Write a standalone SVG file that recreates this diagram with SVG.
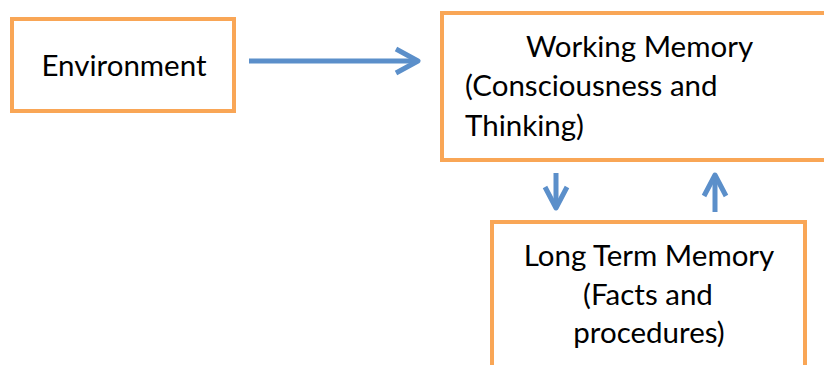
<svg xmlns="http://www.w3.org/2000/svg" width="824" height="365" viewBox="0 0 824 365">
<style>
.box{fill:#fff;stroke:#F9A656;stroke-width:4}
.t{font-family:Lato,"Open Sans","Liberation Sans",sans-serif;font-size:29.5px;fill:#000}
.c{stroke:#5B8FCA;stroke-width:5;fill:none;stroke-linecap:butt}
</style>
<rect width="824" height="365" fill="#fff"/>
<g id="environment">
<rect class="box" x="12" y="19" width="222" height="92"/>
<text class="t" x="124" y="76" text-anchor="middle">Environment</text>
</g>
<g id="working-memory">
<rect class="box" x="442" y="13" width="400" height="147"/>
<text class="t" x="639.5" y="57" text-anchor="middle">Working Memory</text>
<text class="t" x="465" y="96">(Consciousness and</text>
<text class="t" x="465" y="136">Thinking)</text>
</g>
<g id="long-term-memory">
<rect class="box" x="492" y="222" width="313" height="200"/>
<text class="t" x="649" y="266" text-anchor="middle">Long Term Memory</text>
<text class="t" x="648" y="305" text-anchor="middle">(Facts and</text>
<text class="t" x="649" y="343" text-anchor="middle">procedures)</text>
</g>
<g id="connectors">
<path class="c" d="M249 61H418"/>
<path class="c" d="M396 49L418 61L396 73" stroke-linejoin="round" stroke-linecap="round"/>
<path class="c" d="M556 173V208"/>
<path class="c" d="M545 187L556 208L567 187" stroke-linejoin="round" stroke-linecap="round"/>
<path class="c" d="M715 212V176"/>
<path class="c" d="M704 196L715 175L726 196" stroke-linejoin="round" stroke-linecap="round"/>
</g>
</svg>
